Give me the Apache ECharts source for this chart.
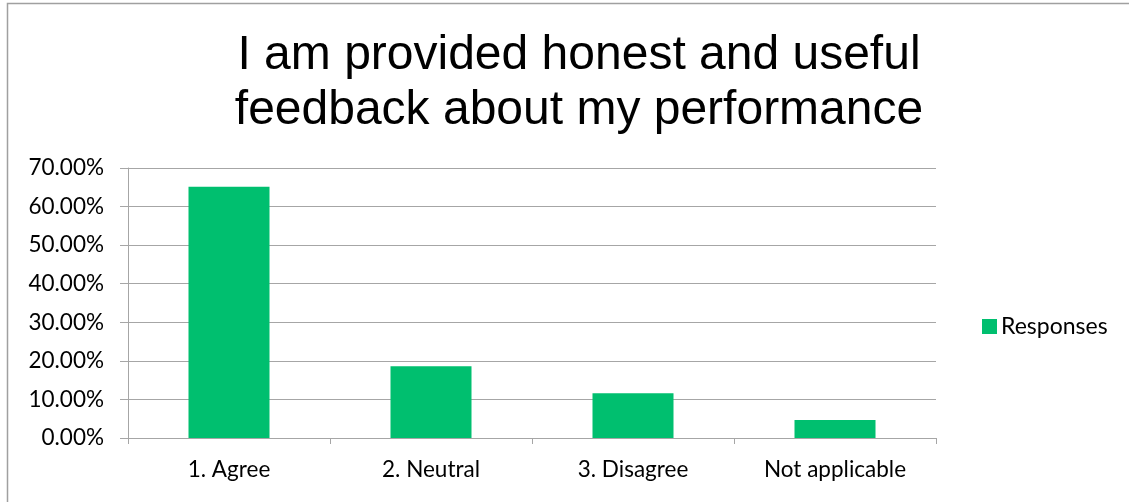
<!DOCTYPE html>
<html>
<head>
<meta charset="utf-8">
<style>
  html, body { margin: 0; padding: 0; background: #ffffff; }
  #chart { width: 1129px; height: 502px; }
</style>
<script src="https://cdn.jsdelivr.net/npm/echarts@6/dist/echarts.min.js"></script>
</head>
<body>
<div id="chart"></div>
<script>
// Survey responses (share of respondents)
const categories = ['1. Agree', '2. Neutral', '3. Disagree', 'Not applicable'];
const responses = [0.6512, 0.1860, 0.1163, 0.0465];
const seriesName = 'Responses';
const titleLines = ['I am provided honest and useful', 'feedback about my performance'];

const labelFont = 'Lato, "Open Sans", sans-serif';
const gridColor = '#a6a6a6';

const chart = echarts.init(document.getElementById('chart'));
chart.setOption({
  animation: false,
  backgroundColor: '#ffffff',
  title: {
    text: titleLines.join('\n'),
    left: 574,
    textAlign: 'center',
    top: 23,
    textStyle: {
      fontFamily: '"Liberation Sans", Arial, sans-serif',
      fontWeight: 'normal',
      fontSize: 48,
      lineHeight: 55,
      color: '#000000'
    }
  },
  legend: {
    data: [seriesName],
    orient: 'vertical',
    left: 977,
    top: 310,
    icon: 'rect',
    itemWidth: 15,
    itemHeight: 15,
    itemGap: 8,
    textStyle: { fontFamily: labelFont, fontSize: 23, color: '#000000', padding: [0, 0, 0, -1] }
  },
  grid: { left: 128, right: 193, top: 168, bottom: 64, containLabel: false },
  xAxis: {
    type: 'category',
    data: categories,
    axisLine: { lineStyle: { color: gridColor, width: 1 } },
    axisTick: { show: true, length: 6, lineStyle: { color: gridColor } },
    axisLabel: { fontFamily: labelFont, fontSize: 22.5, color: '#000000', margin: 20 }
  },
  yAxis: {
    type: 'value',
    min: 0,
    max: 0.7,
    interval: 0.1,
    axisLine: { show: true, lineStyle: { color: gridColor, width: 1 } },
    axisTick: { show: true, length: 8, lineStyle: { color: gridColor } },
    splitLine: { lineStyle: { color: gridColor, width: 1 } },
    axisLabel: {
      fontFamily: labelFont,
      fontSize: 22.5,
      color: '#000000',
      margin: 24,
      formatter: v => (v * 100).toFixed(2) + '%'
    }
  },
  series: [{
    name: seriesName,
    type: 'bar',
    data: responses,
    barWidth: 81,
    itemStyle: { color: '#00bf6f' }
  }],
  graphic: [{
    type: 'rect',
    shape: { x: 7.5, y: 3.5, width: 1200, height: 600 },
    style: { fill: 'none', stroke: '#a0a0a0', lineWidth: 1.5 },
    silent: true
  }]
});
</script>
</body>
</html>
